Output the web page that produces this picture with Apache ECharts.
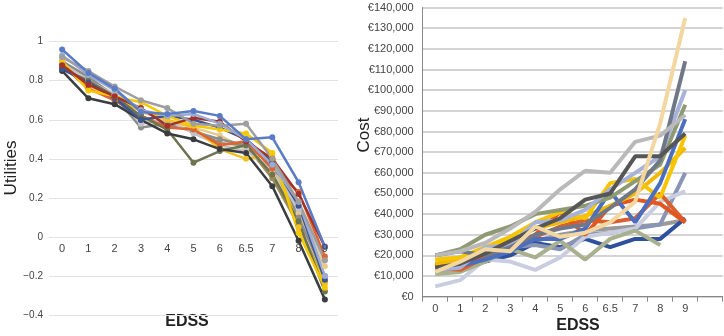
<!DOCTYPE html>
<html><head><meta charset="utf-8">
<script src="https://cdn.jsdelivr.net/npm/echarts@6/dist/echarts.min.js"></script>
<style>html,body{margin:0;padding:0;background:#fff}#c{width:724px;height:336px}</style>
</head><body><div id="c"></div>
<script>
var edssCats = ['0','1','2','3','4','5','6','6.5','7','8','9'];
var costCats = ['0','1','2','3','4','5','6','6.5','7','8','9',''];
var utilTicks = [-0.4,-0.2,0,0.2,0.4,0.6,0.8,1];

// Utilities series (left panel)
var uBlue      = [0.96,0.84,0.76,0.64,0.63,0.645,0.62,0.50,0.51,0.28,-0.05];
var uGray      = [0.92,0.85,0.77,0.70,0.66,0.58,0.57,0.58,0.40,0.18,-0.12];
var uBlack     = [0.85,0.71,0.68,0.60,0.53,0.50,0.45,0.43,0.26,-0.02,-0.32];
var uOlive     = [0.86,0.80,0.72,0.62,0.55,0.38,0.44,0.47,0.32,0.08,-0.28];
var uDarkRed   = [0.88,0.78,0.72,0.66,0.57,0.61,0.59,0.49,0.40,0.22,-0.05];
var uOrange    = [0.88,0.76,0.70,0.62,0.56,0.55,0.47,0.49,0.35,0.23,-0.10];
var uYellow    = [0.90,0.75,0.72,0.69,0.62,0.57,0.55,0.53,0.43,0.02,-0.26];
var uYellow2   = [0.87,0.78,0.70,0.65,0.60,0.56,0.45,0.40,0.42,0.05,-0.24];
var uLightGray = [0.89,0.80,0.73,0.58,0.60,0.53,0.47,0.44,0.35,0.14,-0.12];
var uDarkBlue  = [0.86,0.79,0.71,0.60,0.62,0.60,0.56,0.50,0.38,0.16,-0.22];
var uSky       = [0.93,0.83,0.75,0.65,0.62,0.63,0.58,0.50,0.37,0.18,-0.20];
var uMidGray   = [0.90,0.82,0.72,0.56,0.58,0.54,0.50,0.47,0.37,0.10,-0.20];
var uKhaki     = [0.87,0.79,0.70,0.62,0.57,0.55,0.48,0.47,0.30,0.06,-0.23];
var uTan       = [0.89,0.81,0.73,0.64,0.60,0.56,0.52,0.45,0.33,0.12,-0.15];

// Cost series (right panel), euros
var cTan       = [12000,17000,23000,22000,34000,29000,31000,36000,46000,84000,135000];
var cLightGray = [20000,22000,26000,33000,41000,52000,61000,60000,75000,78000,88000];
var cDarkGray  = [14000,16000,21000,27000,33000,38000,47000,50000,68000,68000,79000];
var cSlate     = [20000,22000,20000,24000,30000,33000,35000,43000,52000,66000,114000];
var cLavender  = [13000,14000,24000,25000,36000,37000,42000,52000,60000,68000,100000];
var cSage2     = [20000,23000,30000,34000,40000,42000,44000,48000,56000,64000,93000];
var cBlue      = [13000,15000,18000,22000,28000,28000,33000,51000,36000,55000,86000];
var cYellow    = [18000,19000,24000,29000,36000,41000,38000,55000,57000,48000,78000];
var cYellow2   = [16000,18000,22000,27000,33000,36000,39000,44000,50000,60000,72000];
var cOrange    = [16000,14000,20000,25000,30000,41000,30000,44000,47000,45000,36000];
var cOrange2   = [14000,13000,19000,24000,29000,34000,37000,36000,38000,50000,36000];
var cSage      = [11000,12000,17000,23000,19000,27000,18000,28000,32000,25000,null];
var cPale      = [5000,8000,18000,17000,13000,19000,29000,31000,33000,46000,51000];
var cDarkBlue  = [15000,15000,17000,20000,26000,24000,28000,24000,28000,28000,38000];
var cGrayBlue  = [12000,13000,20000,24000,25000,23000,30000,31000,33000,35000,60000];
var cMidGray   = [12000,14000,19000,22000,27000,30000,32000,33000,34000,35000,37000];

var utilSeries = [
  [uTan,'#e6c98e'],[uKhaki,'#9c8c5a'],[uMidGray,'#8c8c8c'],[uLightGray,'#c2c2ca'],
  [uYellow2,'#f0c020'],[uOrange,'#e0642e'],[uOlive,'#6e7350'],[uBlack,'#3a3d3f'],
  [uDarkBlue,'#3b5590'],[uYellow,'#f6c800'],[uDarkRed,'#a3322a'],[uSky,'#9aabd4'],
  [uGray,'#9e9e9e'],[uBlue,'#5a7cc6']
];
var costSeries = [
  [cMidGray,'#9a9a9a'],[cDarkBlue,'#2f509c'],[cGrayBlue,'#8a94b4'],[cPale,'#c9cde0'],
  [cSage,'#a8b08e'],[cOrange2,'#d9602e'],[cOrange,'#e3561f'],[cYellow2,'#f2b900'],
  [cYellow,'#f7c400'],[cBlue,'#4a6ec0'],[cSage2,'#8f9a72'],[cLavender,'#a7b2da'],
  [cSlate,'#707888'],[cDarkGray,'#565656'],[cLightGray,'#b9b9b9'],[cTan,'#f4d6a0']
];

var series = [];
utilSeries.forEach(function(s){
  series.push({type:'line', xAxisIndex:0, yAxisIndex:0, data:s[0], symbol:'circle', symbolSize:6,
    lineStyle:{width:2.5, color:s[1]}, itemStyle:{color:s[1]}, silent:true, animation:false});
});
costSeries.forEach(function(s){
  series.push({type:'line', xAxisIndex:1, yAxisIndex:1, data:s[0], symbol:'none',
    lineStyle:{width:4, color:s[1]}, itemStyle:{color:s[1]}, silent:true, animation:false});
});

var chart = echarts.init(document.getElementById('c'), null, {renderer:'canvas'});
chart.setOption({
  animation:false,
  grid:[
    {left:49, top:41.7, width:289, height:273.3},
    {left:422.7, top:7.6, width:300, height:289.1}
  ],
  xAxis:[
    {gridIndex:0, type:'category', data:edssCats, boundaryGap:true, position:'bottom', offset:-78.1, z:10,
     axisLine:{show:false, onZero:false}, axisTick:{show:false},
     axisLabel:{color:'#444', fontSize:11, margin:7, fontFamily:'Liberation Sans'}},
    {gridIndex:1, type:'category', data:costCats, boundaryGap:true,
     axisLine:{lineStyle:{color:'#888', width:1}}, axisTick:{show:true, length:5, lineStyle:{color:'#888'}},
     axisLabel:{color:'#444', fontSize:11, margin:7, fontFamily:'Liberation Sans', interval:0}}
  ],
  yAxis:[
    {gridIndex:0, type:'value', min:-0.4, max:1, interval:0.2,
     axisLine:{show:false}, axisTick:{show:false},
     splitLine:{lineStyle:{color:'#e3e3e3', width:1}},
     axisLabel:{color:'#444', fontSize:10, margin:6, fontFamily:'Liberation Sans',
       formatter:function(v){var r=Math.round(v*10)/10; if(r===0) return '0'; if(r===1) return '1'; return (r<0?'\u22120.':'0.')+Math.round(Math.abs(r)*10);}}},
    {gridIndex:1, type:'value', min:0, max:140000, interval:10000,
     axisLine:{show:true, lineStyle:{color:'#888', width:1}}, axisTick:{show:false},
     splitLine:{lineStyle:{color:'#c4c4c4', width:1.5}},
     axisLabel:{color:'#444', fontSize:11, margin:9, fontFamily:'Liberation Sans',
       formatter:function(v){return '\u20ac'+Math.round(v).toLocaleString('en-US');}}}
  ],
  graphic:[
    {type:'text', x:11, y:168, rotation:Math.PI/2,
     style:{text:'Utilities', fontSize:17, fill:'#222', fontFamily:'Liberation Sans', textAlign:'center', textVerticalAlign:'middle'}},
    {type:'text', x:187, y:322, style:{text:'EDSS', fontSize:16, fontWeight:'bold', fill:'#222', fontFamily:'Liberation Sans', textAlign:'center', textVerticalAlign:'middle'}},
    {type:'text', x:364, y:135, rotation:Math.PI/2, style:{text:'Cost', fontSize:17, fill:'#222', fontFamily:'Liberation Sans', textAlign:'center', textVerticalAlign:'middle'}},
    {type:'text', x:578, y:326, style:{text:'EDSS', fontSize:16, fontWeight:'bold', fill:'#222', fontFamily:'Liberation Sans', textAlign:'center', textVerticalAlign:'middle'}}
  ],
  series:series
});
</script></body></html>
